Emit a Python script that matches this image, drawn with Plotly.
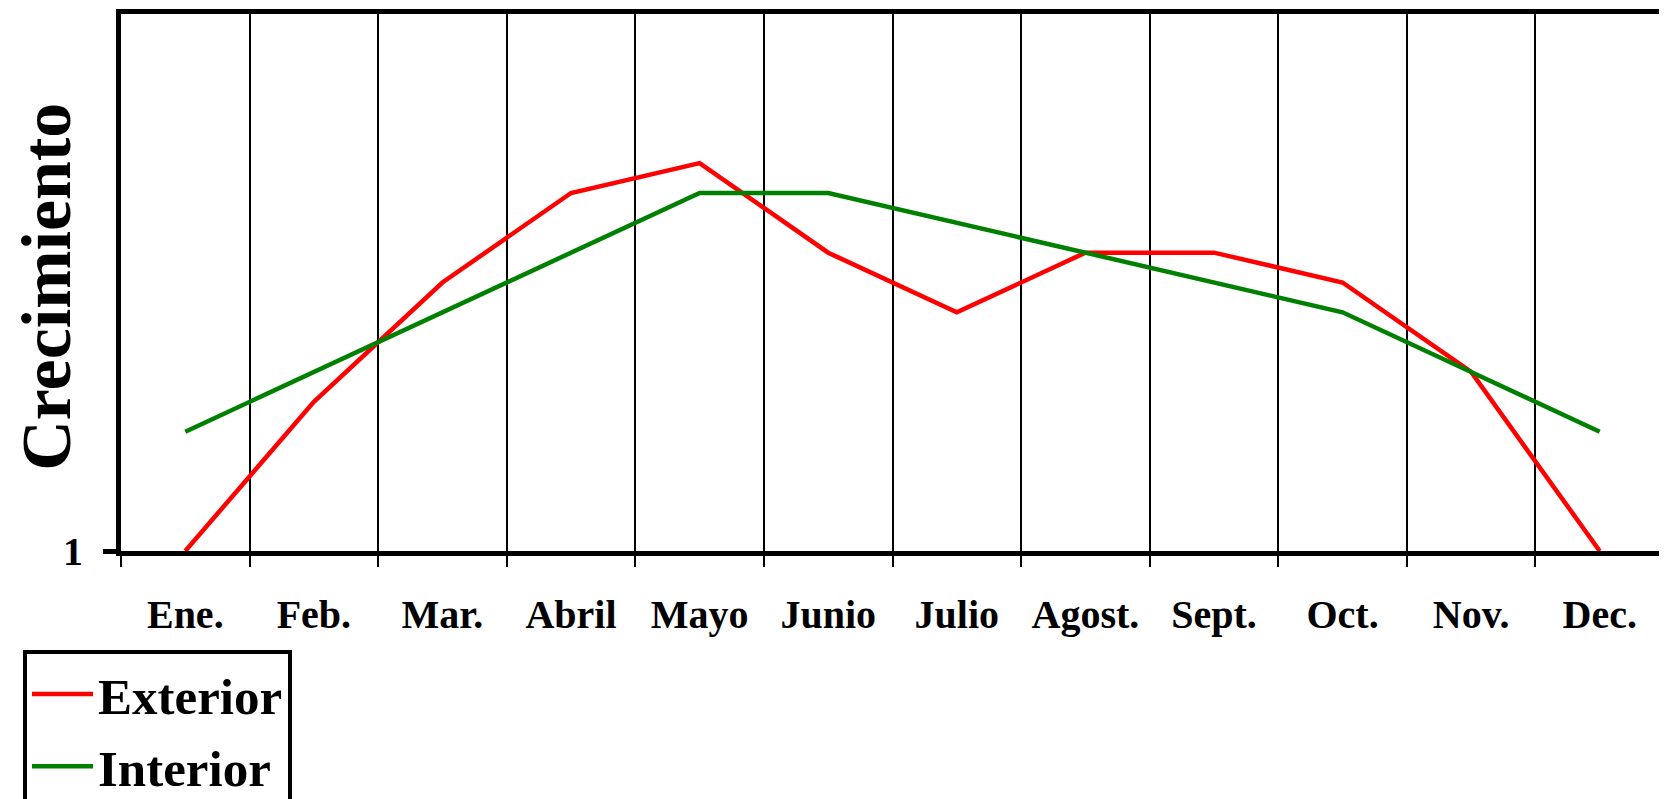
import plotly.graph_objects as go

months = ["Ene.", "Feb.", "Mar.", "Abril", "Mayo", "Junio", "Julio", "Agost.", "Sept.", "Oct.", "Nov.", "Dec."]
exterior = [1, 6, 10, 13, 14, 11, 9, 11, 11, 10, 7, 1]
interior = [5, 7, 9, 11, 13, 13, 12, 11, 10, 9, 7, 5]
y_ticks = [1]
y_ticktext = ["1"]

FONT = "Liberation Serif, Times New Roman, Times, serif"

fig = go.Figure()
fig.add_trace(go.Scatter(x=months, y=exterior, mode="lines", name="Exterior", legendgroup="a",
                         line=dict(color="#FF0000", width=4.5), cliponaxis=False))
fig.add_trace(go.Scatter(x=months, y=interior, mode="lines", name="Interior", legendgroup="b",
                         line=dict(color="#008000", width=4.5), cliponaxis=False))

fig.update_layout(
    width=1667, height=799,
    margin=dict(l=113, r=11, t=6, b=256, autoexpand=False),
    paper_bgcolor="white", plot_bgcolor="white",
    font=dict(family=FONT, color="black", size=40, weight="bold"),
    showlegend=True,
    legend=dict(xref="container", yref="container", x=0.009, y=0.196,
                xanchor="left", yanchor="top",
                bordercolor="black", borderwidth=4, bgcolor="white",
                font=dict(size=51, family=FONT, weight="bold", color="black"),
                traceorder="grouped", tracegroupgap=3, itemwidth=61),
    annotations=[dict(text="Crecimiento", xref="paper", yref="paper",
                      x=-0.048, y=0.492, xanchor="center", yanchor="middle",
                      textangle=-90, showarrow=False,
                      font=dict(size=70, family=FONT, weight="bold", color="black"))],
)
fig.update_xaxes(
    type="category", tickson="boundaries",
    showgrid=True, gridcolor="black", gridwidth=1.5,
    showline=True, linecolor="black", linewidth=5, mirror=True,
    ticks="outside", ticklen=11, tickwidth=2, tickcolor="black",
    tickfont=dict(size=40, family=FONT, weight="bold"),
    ticklabelstandoff=24,
    range=[-0.5, 11.5],
)
fig.update_yaxes(
    range=[1, 19], tickvals=y_ticks, ticktext=y_ticktext,
    showgrid=False, zeroline=False,
    showline=True, linecolor="black", linewidth=5, mirror=True,
    ticks="outside", ticklen=13, tickwidth=5, tickcolor="black",
    tickfont=dict(size=40, family=FONT, weight="bold"),
    ticklabelstandoff=12,
)

fig.write_html("out.html")
